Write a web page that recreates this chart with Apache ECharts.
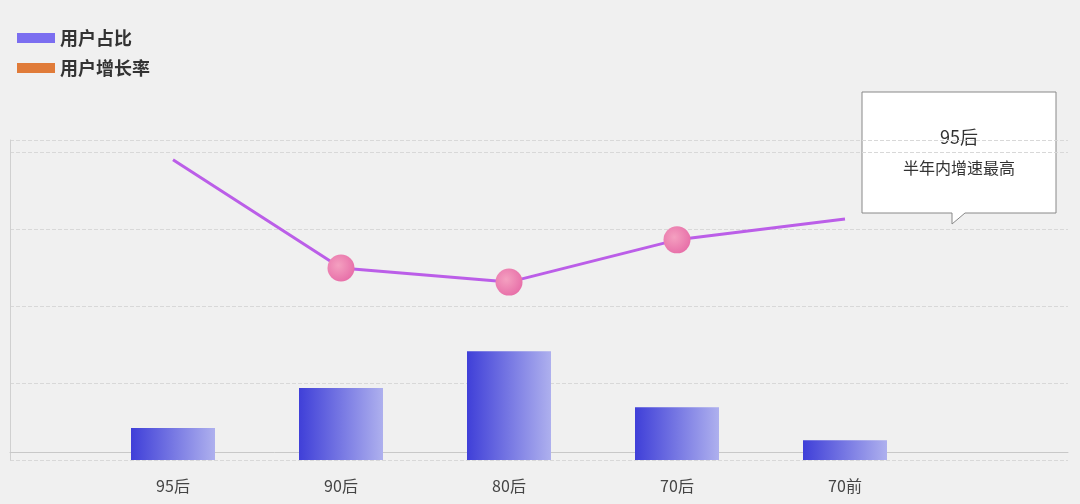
<!DOCTYPE html>
<html><head><meta charset="utf-8">
<script src="https://cdn.jsdelivr.net/npm/echarts@6/dist/echarts.min.js"></script>
<style>html,body{margin:0;background:#f0f0f0}#c{width:1080px;height:504px}</style>
</head><body><div id="c"></div>
<script>
const categories = ["95后", "90后", "80后", "70后", "70前"];
const userShare = [10, 22.5, 34, 16.5, 6.2];
const userGrowth = [93.8, 60, 55.6, 68.8, 75.3];
const noteTitle = "95后";
const noteText = "半年内增速最高";

const chart = echarts.init(document.getElementById("c"));
const dotColor = new echarts.graphic.RadialGradient(0.4, 0.4, 0.7, [
  { offset: 0, color: "#f4a0c0" }, { offset: 1, color: "#e66aa6" }]);
chart.setOption({
  backgroundColor: "#f0f0f0",
  legend: {
    orient: "vertical", left: 12, top: 24, itemGap: 12, itemWidth: 38, itemHeight: 10,
    textStyle: { fontSize: 18, fontWeight: "bold", color: "#333", fontFamily: "Noto Sans CJK SC" },
    data: [
      { name: "用户占比", icon: "rect", itemStyle: { color: "#7b6ef0" } },
      { name: "用户增长率", icon: "rect", itemStyle: { color: "#e07b39" } }
    ]
  },
  grid: [
    { left: 10, right: 12, top: 140, bottom: 44 },
    { left: 89, right: 151, top: 140, bottom: 44 }
  ],
  xAxis: [
    { type: "value", gridIndex: 0, min: 0, max: 1, show: true, axisLabel: { show: false },
      axisTick: { show: false }, splitLine: { show: false }, axisLine: { lineStyle: { color: "#c8c8c8" } } },
    { type: "category", gridIndex: 1, data: categories, axisLine: { show: false }, axisTick: { show: false },
      axisLabel: { fontSize: 16, color: "#444", margin: 18, fontFamily: "Noto Sans CJK SC" } }
  ],
  yAxis: [
    { type: "value", gridIndex: 0, min: -8, max: 312, interval: 77, axisLabel: { show: false },
      axisLine: { show: true, lineStyle: { color: "#d0d0d0" } }, axisTick: { show: false },
      splitLine: { lineStyle: { color: "#d8d8d8", type: "dashed" } } },
    { type: "value", gridIndex: 1, min: 0, max: 100, show: false, splitLine: { show: false } },
    { type: "value", gridIndex: 1, min: 0, max: 100, show: false, splitLine: { show: false } }
  ],
  series: [
    { name: "用户占比", type: "bar", xAxisIndex: 1, yAxisIndex: 1, data: userShare, barWidth: 84,
      itemStyle: { color: new echarts.graphic.LinearGradient(0, 0, 1, 0, [
        { offset: 0, color: "#3f3fd8" }, { offset: 1, color: "#aeb0ee" }]) } },
    { name: "用户增长率", type: "line", xAxisIndex: 1, yAxisIndex: 2, smooth: false,
      data: userGrowth.map((v, i) => ({
        value: v,
        symbolSize: (i === 0 || i === userGrowth.length - 1) ? 0 : 27,
        itemStyle: { color: dotColor }
      })),
      symbol: "circle", lineStyle: { color: "#bb5ee8", width: 3 }, itemStyle: { color: dotColor } }
  ],
  graphic: [
    { type: "polygon", shape: { points: [[862, 92], [1056, 92], [1056, 213], [965, 213], [952, 224], [952, 213], [862, 213]] },
      style: { fill: "#fff", stroke: "#888", lineWidth: 1 } },
    { type: "text", x: 959, y: 137, style: { text: noteTitle, fontSize: 18, fill: "#333", align: "center", verticalAlign: "middle", fontFamily: "Noto Sans CJK SC" } },
    { type: "text", x: 959, y: 168, style: { text: noteText, fontSize: 16, fill: "#333", align: "center", verticalAlign: "middle", fontFamily: "Noto Sans CJK SC" } }
  ]
});
</script></body></html>
